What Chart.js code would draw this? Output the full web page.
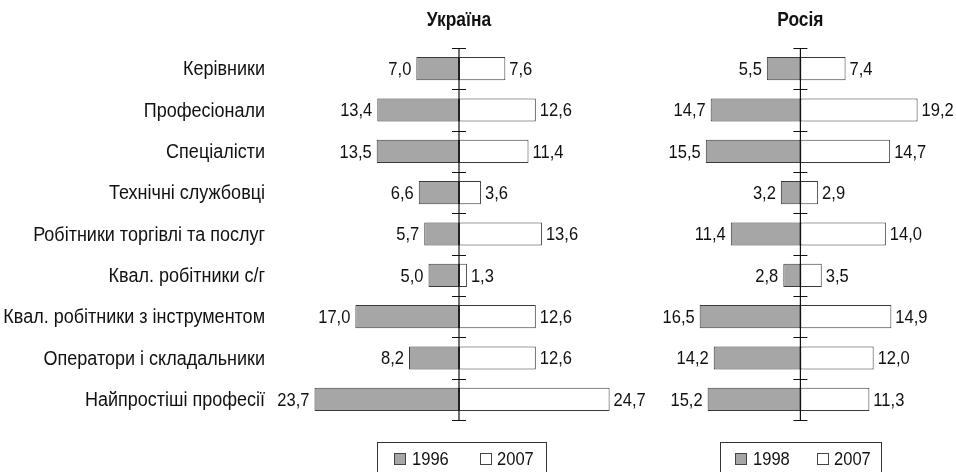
<!DOCTYPE html>
<html>
<head>
<meta charset="utf-8">
<script src="https://cdn.jsdelivr.net/npm/chart.js@4/dist/chart.umd.min.js"></script>
<style>
  html, body { margin: 0; padding: 0; background: #fff; }
  body { width: 956px; height: 472px; position: relative; overflow: hidden; }
  #c1 { position: absolute; left: 0; top: 0; }
  #c2 { position: absolute; left: 660px; top: 0; }
  .legend { position: absolute; top: 442px; height: 40px; border: 1px solid #333; box-sizing: border-box;
            font-family: "Liberation Sans", Arial, sans-serif; font-size: 19px; color: #111; }
  .legend span.sw { position: absolute; top: 10px; width: 12px; height: 12px; box-sizing: border-box; border: 1px solid #444; }
  .legend span.tx { position: absolute; top: 6px; line-height: 20px; transform: scaleX(0.87); transform-origin: left center; }
</style>
</head>
<body>
<canvas id="c1" width="656" height="472"></canvas>
<canvas id="c2" width="296" height="472"></canvas>
<div class="legend" id="lg1" style="left:377px; width:170px;">
  <span class="sw" style="left:16px; background:#a6a6a6;"></span><span class="tx" id="lg1a" style="left:34px;"></span>
  <span class="sw" style="left:102px; background:#fff;"></span><span class="tx" id="lg1b" style="left:119px;"></span>
</div>
<div class="legend" id="lg2" style="left:720px; width:162px;">
  <span class="sw" style="left:14px; background:#a6a6a6;"></span><span class="tx" id="lg2a" style="left:32px;"></span>
  <span class="sw" style="left:96px; background:#fff;"></span><span class="tx" id="lg2b" style="left:113px;"></span>
</div>
<script>
const categories = [
  "Керівники",
  "Професіонали",
  "Спеціалісти",
  "Технічні службовці",
  "Робітники торгівлі та послуг",
  "Квал. робітники с/г",
  "Квал. робітники з інструментом",
  "Оператори і складальники",
  "Найпростіші професії"
];
const ukraineTitle = "Україна";
const russiaTitle = "Росія";
const ukraineYears = ["1996", "2007"];
const russiaYears = ["1998", "2007"];
const ukraine1996 = [7.0, 13.4, 13.5, 6.6, 5.7, 5.0, 17.0, 8.2, 23.7];
const ukraine2007 = [7.6, 12.6, 11.4, 3.6, 13.6, 1.3, 12.6, 12.6, 24.7];
const russia1998 = [5.5, 14.7, 15.5, 3.2, 11.4, 2.8, 16.5, 14.2, 15.2];
const russia2007 = [7.4, 19.2, 14.7, 2.9, 14.0, 3.5, 14.9, 12.0, 11.3];

document.getElementById('lg1a').textContent = ukraineYears[0];
document.getElementById('lg1b').textContent = ukraineYears[1];
document.getElementById('lg2a').textContent = russiaYears[0];
document.getElementById('lg2b').textContent = russiaYears[1];

const FONT = '"Liberation Sans", Arial, sans-serif';
const GREY = '#a6a6a6';
const EDGE = '#3a3a3a';
const TEXT = '#111';

const fmt = v => Math.abs(v).toFixed(1).replace('.', ',');

function narrowText(ctx, text, x, y, align, font, sx) {
  ctx.save();
  ctx.font = font;
  ctx.textAlign = align;
  ctx.textBaseline = 'middle';
  ctx.fillStyle = TEXT;
  ctx.translate(x, y);
  ctx.scale(sx, 1);
  ctx.fillText(text, 0, 0);
  ctx.restore();
}

const decor = {
  id: 'decor',
  afterDatasetsDraw(chart, args, opts) {
    const ctx = chart.ctx;
    const xs = chart.scales.x;
    const ys = chart.scales.y;
    const area = chart.chartArea;
    const x0 = xs.getPixelForValue(0);
    // category labels
    if (opts.showLabels) {
      chart.data.labels.forEach((lab, i) => {
        narrowText(ctx, lab, area.left - 5, ys.getPixelForValue(i) + 1, 'right', '20px ' + FONT, 0.9);
      });
    }
    // value labels
    chart.data.datasets.forEach((ds, di) => {
      const meta = chart.getDatasetMeta(di);
      meta.data.forEach((bar, i) => {
        const v = ds.data[i];
        if (v < 0) {
          narrowText(ctx, fmt(v), bar.x - 5, bar.y + 1, 'right', '19px ' + FONT, 0.87);
        } else {
          narrowText(ctx, fmt(v), bar.x + 4, bar.y + 1, 'left', '19px ' + FONT, 0.87);
        }
      });
    });
    // central axis
    ctx.save();
    ctx.strokeStyle = '#111';
    ctx.lineWidth = 1.2;
    ctx.beginPath();
    ctx.moveTo(x0, area.top);
    ctx.lineTo(x0, area.bottom);
    const n = chart.data.labels.length;
    for (let i = 0; i <= n; i++) {
      const y = Math.round(area.top + i * (area.bottom - area.top) / n) + 0.5;
      ctx.moveTo(x0 - 7, y);
      ctx.lineTo(x0 + 7, y);
    }
    ctx.stroke();
    ctx.restore();
    // title
    narrowText(ctx, opts.title, x0, 20, 'center', 'bold 20px ' + FONT, 0.87);
  }
};

function makeChart(id, d1, d2, years, title, showLabels, xmin, xmax, padLeft, padRight) {
  return new Chart(document.getElementById(id), {
    type: 'bar',
    data: {
      labels: categories,
      datasets: [
        { label: years[0], data: d1.map(v => -v), backgroundColor: GREY, borderColor: EDGE, borderWidth: 1, borderSkipped: false },
        { label: years[1], data: d2, backgroundColor: '#ffffff', borderColor: EDGE, borderWidth: 1, borderSkipped: false }
      ]
    },
    options: {
      indexAxis: 'y',
      responsive: false,
      animation: false,
      devicePixelRatio: 1,
      layout: { padding: { top: 48, bottom: 52, left: padLeft, right: padRight } },
      datasets: { bar: { barPercentage: 0.56, categoryPercentage: 1 } },
      scales: {
        x: { display: false, stacked: true, min: xmin, max: xmax },
        y: {
          stacked: true,
          display: showLabels,
          grid: { display: false, drawTicks: false },
          border: { display: false },
          ticks: { display: false },
          afterFit(scale) { if (showLabels) scale.width = 270; }
        }
      },
      plugins: {
        legend: { display: false },
        tooltip: { enabled: false },
        decor: { title: title, showLabels: showLabels }
      }
    },
    plugins: [decor]
  });
}

makeChart('c1', ukraine1996, ukraine2007, ukraineYears, ukraineTitle, true, -31, 31, 0, 8);
makeChart('c2', russia1998, russia2007, russiaYears, russiaTitle, false, -23, 25, 0, 3);
</script>
</body>
</html>
